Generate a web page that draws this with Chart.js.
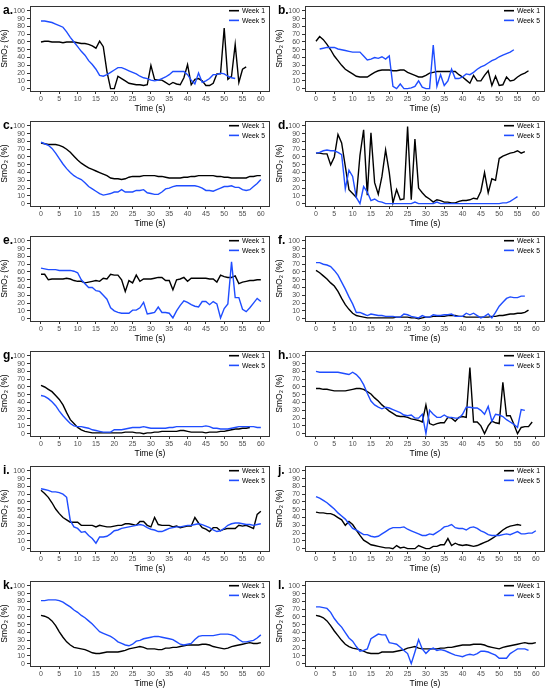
<!DOCTYPE html>
<html><head><meta charset="utf-8">
<script src="https://cdn.jsdelivr.net/npm/chart.js@4/dist/chart.umd.min.js"></script>
<style>
html,body{margin:0;padding:0;background:#fff}
body{width:550px;height:690px;position:relative;overflow:hidden}
.p{position:absolute;width:275px;height:115px}
</style></head>
<body>
<script>
// ---- tick labels ----
const xTicks = [0,5,10,15,20,25,30,35,40,45,50,55,60];
const yTicks = [0,10,20,30,40,50,60,70,80,90,100];
const seriesNames = ['Week 1','Week 5'];
const panelLetters = ['a.','b.','c.','d.','e.','f.','g.','h.','i.','j.','k.','l.'];

// ---- data (SmO2 %, one value per second; start = first second) ----
const a_week1 = [60,61,61,60,60,60,59,60,60,60,59,58,58,57,55,52,61,54,22,0,0,16,13,10,7,6,5,5,4,5,30,12,11,11,8,5,8,6,5,14,31,5,12,13,10,4,4,7,19,19,78,12,16,57,8,25,28];
const a_week5 = [87,87,86,85,83,81,79,73,66,60,54,48,43,36,31,25,17,16,18,21,24,27,27,25,23,21,19,16,14,13,11,10,11,13,15,18,22,22,22,22,18,11,6,20,8,10,13,18,18,20,19,16,14,13];
const b_week1 = [61,67,63,57,50,42,36,30,25,22,19,16,15,15,15,18,21,23,24,24,24,23,23,24,24,21,19,17,15,15,17,20,21,22,22,22,22,22,22,18,15,11,7,17,10,10,17,23,4,16,4,5,15,10,11,15,18,20,23];
const b_week5 = [51,52,53,53,53,51,50,49,48,47,47,47,42,37,38,40,39,41,38,42,3,0,6,0,0,1,3,10,2,0,0,56,3,18,4,10,25,13,13,15,19,18,21,25,28,30,33,36,38,41,43,45,47,50];
const c_week1 = [78,77,76,76,76,75,73,70,66,61,56,52,49,46,44,42,40,38,36,33,32,32,31,32,34,35,35,35,36,36,36,36,35,35,34,33,33,33,33,34,34,35,35,36,36,36,36,36,35,35,34,34,33,33,33,33,33,35,35,36,36];
const c_week5 = [79,77,75,71,65,58,51,45,40,36,33,31,27,22,19,16,13,11,12,13,15,15,18,15,15,15,17,17,18,14,13,12,12,15,19,20,22,23,23,23,23,23,23,22,20,17,17,16,18,20,22,22,23,21,21,18,17,18,22,26,31];
const d_week1 = [65,65,64,64,50,60,89,78,48,18,13,8,62,95,11,91,27,12,35,69,40,1,18,5,6,99,5,83,20,14,9,6,2,5,4,2,2,1,1,3,4,4,5,7,6,16,40,14,32,30,58,61,63,65,66,68,65,67];
const d_week5 = [65,66,68,69,68,68,66,63,19,43,35,8,0,22,15,4,6,3,2,0,0,0,0,0,0,0,0,2,0,0,0,0,0,2,0,0,0,0,0,0,0,0,0,0,0,0,0,0,0,0,0,1,1,3,6,9];
const e_week1 = [57,57,50,51,51,51,51,52,51,49,48,48,46,47,48,49,48,52,51,57,56,56,50,35,49,46,56,48,51,51,51,52,53,53,49,49,37,50,51,53,48,52,52,52,52,52,51,51,47,56,54,53,53,55,45,47,48,49,49,50,50];
const e_week5 = [65,64,63,63,63,62,62,62,62,61,59,50,45,40,40,36,35,30,25,14,10,8,7,7,7,11,11,14,21,6,7,8,15,8,8,7,1,10,17,23,21,18,16,15,22,22,18,22,19,1,13,19,73,27,27,12,9,14,20,26,22];
const f_week1 = [62,59,55,51,46,42,35,26,18,12,7,4,3,2,1,1,1,1,1,1,1,1,2,2,2,2,1,1,0,1,2,2,3,3,3,3,4,4,4,3,3,2,2,2,2,2,2,2,3,3,4,4,5,6,6,7,7,8,11];
const f_week5 = [72,72,70,69,67,62,56,47,38,28,19,8,8,6,4,6,5,4,4,3,3,3,2,2,6,5,3,2,1,4,2,2,5,4,4,5,5,6,3,3,3,7,5,7,4,1,3,6,1,8,16,21,26,28,27,27,29,29];
const g_week1 = [62,60,57,54,49,44,37,27,18,13,8,5,3,2,1,1,1,1,1,1,1,1,1,2,2,2,1,1,0,1,1,2,2,3,3,3,3,3,4,4,3,2,2,2,2,1,2,2,2,3,3,4,5,6,6,7,7,8];
const g_week5 = [49,48,45,41,36,29,23,18,13,10,9,9,8,7,5,4,3,2,2,2,5,5,5,6,7,8,8,8,9,8,7,7,7,7,7,8,8,9,9,9,9,9,9,9,9,10,9,7,7,6,6,6,7,8,9,9,9,9,9,8,8];
const h_week1 = [58,58,57,57,56,55,55,55,55,56,57,58,58,57,54,51,46,42,37,33,29,26,23,22,22,21,19,18,17,15,37,13,11,13,14,14,21,20,16,21,22,21,85,15,15,10,0,10,16,14,13,66,23,23,12,0,8,9,9,15];
const h_week5 = [80,79,79,79,79,79,79,78,77,76,79,76,71,63,52,42,37,34,32,34,33,31,29,27,24,23,24,20,20,25,0,30,25,21,21,24,21,21,20,20,25,34,34,33,33,30,25,35,16,25,24,22,18,15,12,8,31,30];
const i_week1 = [75,71,66,59,51,45,40,37,34,34,34,30,30,30,30,28,30,29,28,28,29,30,30,32,32,31,30,35,35,30,28,40,31,30,30,30,28,29,27,28,29,29,40,33,27,25,22,27,27,23,25,26,26,26,30,29,30,28,26,44,48];
const i_week5 = [77,76,75,73,73,72,70,66,36,28,26,21,22,17,13,7,15,15,16,19,23,24,26,27,28,29,30,31,30,27,25,24,22,22,24,26,27,28,28,29,30,30,31,32,31,29,27,24,22,23,26,30,32,33,33,32,31,31,30,31,32];
const j_week1 = [47,46,46,45,45,43,40,37,30,35,31,24,17,11,8,5,4,3,2,1,1,0,4,1,2,0,0,0,4,2,0,0,3,3,5,5,13,4,7,5,4,5,4,3,4,6,8,10,13,16,20,24,27,29,30,31,30];
const j_week5 = [67,65,62,59,55,51,46,42,38,32,26,24,21,18,18,16,15,16,19,22,25,27,27,27,28,25,23,21,19,17,17,19,18,21,24,28,29,31,27,26,26,24,27,28,26,23,21,18,17,17,17,18,19,18,20,22,19,19,20,20,23];
const k_week1 = [62,61,59,55,49,41,34,28,24,21,20,19,18,16,14,13,13,14,15,15,15,15,16,17,19,20,21,22,21,19,19,19,18,18,20,20,21,21,22,23,24,24,24,24,25,25,24,22,21,20,19,20,22,23,24,25,26,27,26,26,27];
const k_week5 = [81,81,82,82,82,81,79,76,73,69,66,62,59,55,51,46,41,39,37,35,32,28,26,24,23,25,29,30,32,33,34,35,35,34,33,32,31,28,25,24,25,26,31,35,36,36,36,36,37,38,38,38,37,35,31,28,28,29,30,33,37];
const l_week1 = [62,61,59,55,49,42,36,30,25,22,20,19,18,16,14,13,13,13,15,15,15,15,16,17,18,20,21,22,20,19,19,19,19,19,20,20,21,21,22,23,24,24,24,25,25,25,24,22,21,20,19,21,22,23,24,25,26,27,26,26,27];
const l_week5 = [73,73,72,71,66,58,52,47,40,33,29,22,16,17,19,32,35,38,37,37,27,26,25,21,17,13,0,15,31,19,13,18,20,17,18,17,15,13,11,10,9,11,12,11,13,16,16,15,13,11,7,7,7,13,16,19,19,19,17];

const panels = [
  [a_week1,0,a_week5,0],[b_week1,0,b_week5,1],
  [c_week1,0,c_week5,0],[d_week1,0,d_week5,0],
  [e_week1,0,e_week5,0],[f_week1,0,f_week5,0],
  [g_week1,0,g_week5,0],[h_week1,0,h_week5,0],
  [i_week1,0,i_week5,0],[j_week1,0,j_week5,0],
  [k_week1,0,k_week5,0],[l_week1,0,l_week5,0]
];

const FONT = '"Liberation Sans", Arial, Helvetica, sans-serif';
const BLUE = '#1f4dff';
const toXY = (arr, start) => arr.map((v, i) => ({x: start + i, y: v}));

const frame = {
  id: 'frame',
  afterDatasetsDraw(chart, args, opts) {
    const {ctx, chartArea: ca} = chart;
    ctx.save();
    ctx.strokeStyle = '#333';
    ctx.lineWidth = 1;
    ctx.strokeRect(Math.round(ca.left) + 0.5, Math.round(ca.top) + 0.5,
                   Math.round(ca.right - ca.left) - 1, Math.round(ca.bottom - ca.top));
    // legend
    ctx.font = '6.8px ' + FONT;
    ctx.textBaseline = 'middle';
    chart.data.datasets.forEach((ds, i) => {
      const y = ca.top + 4.5 + i * 9.7;
      ctx.strokeStyle = ds.borderColor;
      ctx.lineWidth = 1.6;
      ctx.beginPath();
      ctx.moveTo(ca.right - 41, y);
      ctx.lineTo(ca.right - 31, y);
      ctx.stroke();
      ctx.fillStyle = '#000';
      ctx.fillText(ds.label, ca.right - 28, y + 0.5);
    });
    // panel letter
    ctx.font = 'bold 12px ' + FONT;
    ctx.textBaseline = 'alphabetic';
    ctx.fillStyle = '#000';
    ctx.fillText(opts.letter, 3, 14);
    ctx.restore();
  }
};

panels.forEach((p, k) => {
  const div = document.createElement('div');
  div.className = 'p';
  div.style.left = (k % 2) * 275 + 'px';
  div.style.top = Math.floor(k / 2) * 115 + 'px';
  const cv = document.createElement('canvas');
  cv.width = 275; cv.height = 115;
  cv.style.width = '275px'; cv.style.height = '115px';
  div.appendChild(cv);
  document.body.appendChild(div);

  new Chart(cv, {
    type: 'line',
    data: {
      datasets: [
        {label: seriesNames[0], data: toXY(p[0], p[1]), borderColor: '#000', borderWidth: 1.4,
         pointRadius: 0, tension: 0, fill: false, order: 1},
        {label: seriesNames[1], data: toXY(p[2], p[3]), borderColor: BLUE, borderWidth: 1.4,
         pointRadius: 0, tension: 0, fill: false, order: 0}
      ]
    },
    options: {
      responsive: false,
      animation: false,
      events: [],
      layout: {padding: {left: 0, right: 5, top: 6, bottom: 0}},
      plugins: {legend: {display: false}, tooltip: {enabled: false}, frame: {letter: panelLetters[k]}},
      scales: {
        x: {
          type: 'linear', min: -3, max: 62.5,
          afterBuildTicks: s => { s.ticks = xTicks.map(v => ({value: v})); },
          afterFit: s => { s.height = 24; },
          ticks: {font: {size: 7, family: FONT}, color: '#4d4d4d', padding: 1, maxRotation: 0, autoSkip: false},
          grid: {display: true, drawOnChartArea: false, drawTicks: true, tickLength: 3, color: '#333'},
          border: {display: false},
          title: {display: true, text: 'Time (s)', font: {size: 8.5, family: FONT}, color: '#000', padding: {top: 0, bottom: 1}}
        },
        y: {
          type: 'linear', min: -3, max: 106,
          afterBuildTicks: s => { s.ticks = yTicks.map(v => ({value: v})); },
          afterFit: s => { s.width = 30; },
          ticks: {font: {size: 7, family: FONT}, color: '#4d4d4d', padding: 2, autoSkip: false},
          grid: {display: true, drawOnChartArea: false, drawTicks: true, tickLength: 3, color: '#333'},
          border: {display: false},
          title: {display: true, text: 'SmO₂ (%)', font: {size: 8.5, family: FONT}, color: '#000', padding: {top: 0, bottom: 0}}
        }
      }
    },
    plugins: [frame]
  });
});
</script>
</body></html>
